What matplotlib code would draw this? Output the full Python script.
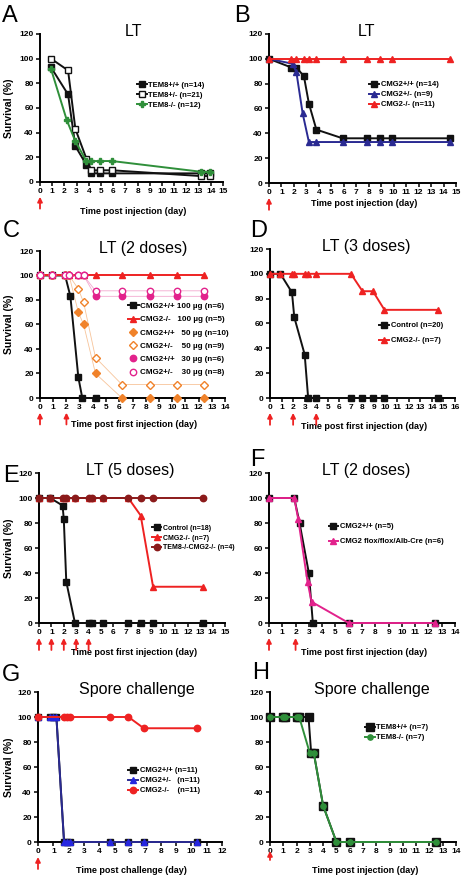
import matplotlib
matplotlib.use('Agg')
import matplotlib.pyplot as plt

plt.rcParams['font.family'] = ['Liberation Sans Narrow', 'Liberation Sans', 'DejaVu Sans']
plt.rcParams['font.weight'] = 'bold'

BLACK = '#111111'
GREEN = '#2f8f3a'
NAVY = '#2a2a92'
BLUE = '#2626e0'
RED = '#ee2222'
DKRED = '#8b1a1a'
MAGENTA = '#e2228c'
ORANGE = '#f0822a'
ORANGE_LINE = '#f7c49a'
MAGENTA_LINE = '#f3a8cf'

# ---- A: LT, TEM8 ----
a_days = [0.9, 2.3, 2.9, 3.8, 4.2, 4.9, 5.9, 13.2, 13.9]
a_wt = [93, 71, 29, 14, 7, 7, 7, 7, 7]
a_het = [100, 90.5, 43, 19, 9.5, 9.5, 9.5, 4.8, 4.8]
a_ko_days = [0.9, 2.2, 2.9, 3.8, 4.2, 4.9, 5.9, 13.2, 13.9]
a_ko = [91.7, 50, 33, 17, 17, 17, 17, 8.3, 8.3]
a_doses = [0]

# ---- B: LT, CMG2 ----
b_days = [0, 1.8, 2.2, 2.8, 3.2, 3.8, 5.9, 7.9, 8.9, 9.9, 14.5]
b_wt = [100, 93, 93, 86, 64, 43, 36, 36, 36, 36, 36]
b_het_days = [0, 1.9, 2.2, 2.7, 3.2, 3.8, 5.9, 7.9, 8.9, 9.9, 14.5]
b_het = [100, 96, 89, 56, 33, 33, 33, 33, 33, 33, 33]
b_ko = [100, 100, 100, 100, 100, 100, 100, 100, 100, 100, 100]
b_doses = [0]

# ---- C: LT (2 doses) ----
c_wt100_days = [0, 0.9, 1.9, 2.3, 2.9, 3.2, 4.2]
c_wt100 = [100, 100, 100, 83, 17, 0, 0]
c_days = [0, 0.9, 1.9, 2.2, 2.9, 3.3, 4.2, 6.2, 8.3, 10.4, 12.4]
c_ko100 = [100, 100, 100, 100, 100, 100, 100, 100, 100, 100, 100]
c_wt50 = [100, 100, 100, 100, 70, 60, 20, 0, 0, 0, 0]
c_het50 = [100, 100, 100, 100, 89, 78, 33, 11, 11, 11, 11]
c_wt30 = [100, 100, 100, 100, 100, 100, 83, 83, 83, 83, 83]
c_het30 = [100, 100, 100, 100, 100, 100, 87.5, 87.5, 87.5, 87.5, 87.5]
c_doses = [0, 2]

# ---- D: LT (3 doses) ----
d_days = [0, 0.9, 1.9, 2.1, 3.0, 3.3, 4.0, 7.0, 8.0, 8.9, 9.9, 14.5]
d_ctrl = [100, 100, 85, 65, 35, 0, 0, 0, 0, 0, 0, 0]
d_ko = [100, 100, 100, 100, 100, 100, 100, 100, 86, 86, 71, 71]
d_doses = [0, 2, 4]

# ---- E: LT (5 doses) ----
e_ctrl_days = [0, 0.9, 1.9, 2.0, 2.2, 2.9, 4.0, 4.3, 5.2, 7.2, 8.2, 9.2, 13.2]
e_ctrl = [100, 100, 94, 83, 33, 0, 0, 0, 0, 0, 0, 0, 0]
e_days = [0, 0.9, 1.9, 2.2, 2.9, 4.0, 4.3, 5.2, 7.2, 8.2, 9.2, 13.2]
e_ko = [100, 100, 100, 100, 100, 100, 100, 100, 100, 86, 29, 29]
e_dko = [100, 100, 100, 100, 100, 100, 100, 100, 100, 100, 100, 100]
e_doses = [0, 1, 2, 3, 4]

# ---- F: LT (2 doses), liver knockout ----
f_wt_days = [0, 1.9, 2.3, 3.0, 3.3, 6.0, 12.5]
f_wt = [100, 100, 80, 40, 0, 0, 0]
f_flox_days = [0, 1.9, 2.2, 2.9, 3.2, 6.0, 12.5]
f_flox = [100, 100, 83, 33, 17, 0, 0]
f_doses = [0, 2]

# ---- G: spore challenge, CMG2 ----
g_days = [0, 0.8, 1.0, 1.2, 1.7, 1.9, 2.1, 4.7, 5.9, 6.9, 10.4]
g_wt = [100, 100, 100, 100, 0, 0, 0, 0, 0, 0, 0]
g_het = [100, 100, 100, 100, 0, 0, 0, 0, 0, 0, 0]
g_ko_days = [0, 1.7, 1.9, 2.1, 4.7, 5.9, 6.9, 10.4]
g_ko = [100, 100, 100, 100, 100, 100, 91, 91]
g_doses = [0]

# ---- H: spore challenge, TEM8 ----
h_wt_days = [0, 1.0, 1.1, 2.0, 2.2, 2.9, 3.1, 3.3, 4.0, 5.0, 6.0, 12.5]
h_wt = [100, 100, 100, 100, 100, 100, 71, 71, 29, 0, 0, 0]
h_ko_days = [0, 1.0, 1.1, 2.0, 2.2, 3.0, 3.3, 4.0, 5.0, 6.0, 12.5]
h_ko = [100, 100, 100, 100, 100, 71, 71, 29, 0, 0, 0]
h_doses = [0]

W, H = 464, 880
fig = plt.figure(figsize=(W / 100, H / 100), dpi=100)


def make_axes(l, t, r, b, xmax):
    ax = fig.add_axes([l / W, 1 - b / H, (r - l) / W, (b - t) / H])
    ax.set_xlim(0, xmax)
    ax.set_ylim(0, 120)
    ax.set_xticks(range(0, xmax + 1))
    ax.set_yticks(range(0, 121, 20))
    for s in ['top', 'right']:
        ax.spines[s].set_visible(False)
    for s in ['left', 'bottom']:
        ax.spines[s].set_linewidth(1.4)
    ax.tick_params(direction='out', length=3, width=1.1, labelsize=6, pad=1.5)
    for lab in ax.get_xticklabels() + ax.get_yticklabels():
        lab.set_fontweight('bold')
    return ax


def series(ax, x, y, color, marker, label, mfc=None, lw=1.4, ms=4.6, mec=None):
    ax.plot(x, y, color=color, marker=marker, mfc=mfc or color, mec=mec or color,
            lw=lw, ms=ms, mew=1, label=label, clip_on=False, zorder=3)


def decorate(ax, title, tx, xlabel, xly, doses, leg_xy, leg_fs=5.5, leg_sp=0.35, arrow_y=(-0.1, -0.18)):
    ax.text(tx, 1.02, title, transform=ax.transAxes, ha='center', va='center',
            fontsize=11.5, fontweight='normal', family=['Liberation Sans', 'DejaVu Sans'])
    ax.text(0.51, xly, xlabel, transform=ax.transAxes, ha='center', va='center',
            fontsize=6.5, fontweight='bold')
    for d in doses:
        ax.annotate('', xy=(d, arrow_y[0]), xycoords=('data', 'axes fraction'),
                    xytext=(d, arrow_y[1]), textcoords=('data', 'axes fraction'),
                    arrowprops=dict(arrowstyle='-|>', color=RED, lw=1.3, mutation_scale=7,
                                    shrinkA=0, shrinkB=0))
    leg = ax.legend(loc='upper left', bbox_to_anchor=leg_xy, frameon=False,
                    handlelength=1.3, handletextpad=0.2, labelspacing=leg_sp, borderpad=0,
                    borderaxespad=0, prop={'weight': 'bold', 'size': leg_fs})
    return leg


def letter(x, y, s):
    fig.text(x / W, 1 - y / H, s, ha='left', va='top', fontsize=17, fontweight='normal',
             family=['Liberation Sans', 'DejaVu Sans'])


def ylabel(ax_t, ax_b):
    fig.text(9 / W, 1 - (ax_t + ax_b) / 2 / H, 'Survival (%)', rotation=90, ha='center',
             va='center', fontsize=7.5, fontweight='bold')


# A
ax = make_axes(40, 34, 223, 182, 15)
series(ax, a_days, a_wt, BLACK, 's', 'TEM8+/+ (n=14)')
series(ax, a_days, a_het, BLACK, 's', 'TEM8+/- (n=21)', mfc='white')
series(ax, a_ko_days, a_ko, GREEN, 'P', 'TEM8-/- (n=12)')
decorate(ax, 'LT', 0.51, 'Time post injection (day)', -0.2, a_doses, (0.53, 0.68))
letter(2, 5, 'A')
ylabel(34, 182)

# B
ax = make_axes(269, 34, 456, 183, 15)
series(ax, b_days, b_wt, BLACK, 's', 'CMG2+/+ (n=14)')
series(ax, b_het_days, b_het, NAVY, '^', 'CMG2+/- (n=9)')
series(ax, b_days, b_ko, RED, '^', 'CMG2-/- (n=11)')
decorate(ax, 'LT', 0.52, 'Time post injection (day)', -0.14, b_doses, (0.535, 0.685))
letter(234, 5, 'B')

# C
ax = make_axes(40, 251, 225, 398, 14)
ax.plot(c_days, c_wt50, color=ORANGE_LINE, lw=0.6, zorder=2, clip_on=False)
ax.plot(c_days, c_het50, color=ORANGE_LINE, lw=0.6, zorder=2, clip_on=False)
ax.plot(c_days, c_wt30, color=MAGENTA_LINE, lw=0.6, zorder=2, clip_on=False)
ax.plot(c_days, c_het30, color=MAGENTA_LINE, lw=0.6, zorder=2, clip_on=False)
series(ax, c_wt100_days, c_wt100, BLACK, 's', 'CMG2+/+ 100 \u00b5g (n=6)')
series(ax, c_days, c_ko100, RED, '^', 'CMG2-/-   100 \u00b5g (n=5)')
series(ax, c_days, c_wt50, ORANGE, 'D', 'CMG2+/+   50 \u00b5g (n=10)', lw=0, ms=3.8)
series(ax, c_days, c_het50, ORANGE, 'D', 'CMG2+/-    50 \u00b5g (n=9)', mfc='white', lw=0, ms=3.8)
series(ax, c_days, c_wt30, MAGENTA, 'o', 'CMG2+/+   30 \u00b5g (n=6)', lw=0)
series(ax, c_days, c_het30, MAGENTA, 'o', 'CMG2+/-    30 \u00b5g (n=8)', mfc='white', lw=0)
decorate(ax, 'LT (2 doses)', 0.56, 'Time post first injection (day)', -0.18, c_doses,
         (0.476, 0.65), leg_fs=5.8, leg_sp=0.7)
letter(3, 220, 'C')
ylabel(251, 398)

# D
ax = make_axes(270, 249, 455, 398, 16)
series(ax, d_days, d_ctrl, BLACK, 's', 'Control (n=20)')
series(ax, d_days, d_ko, RED, '^', 'CMG2-/- (n=7)')
decorate(ax, 'LT (3 doses)', 0.52, 'Time post first injection (day)', -0.19, d_doses,
         (0.59, 0.51), leg_sp=1.0)
letter(250, 220, 'D')

# E
ax = make_axes(39, 473, 225, 623, 15)
series(ax, e_ctrl_days, e_ctrl, BLACK, 's', 'Control (n=18)')
series(ax, e_days, e_ko, RED, '^', 'CMG2-/- (n=7)')
series(ax, e_days, e_dko, DKRED, 'o', 'TEM8-/-CMG2-/- (n=4)')
decorate(ax, 'LT (5 doses)', 0.49, 'Time post first injection (day)', -0.195, e_doses,
         (0.61, 0.655), leg_fs=5, leg_sp=0.4)
letter(3, 465, 'E')
ylabel(473, 623)

# F
ax = make_axes(269, 473, 455, 623, 14)
series(ax, f_wt_days, f_wt, BLACK, 's', 'CMG2+/+ (n=5)')
series(ax, f_flox_days, f_flox, MAGENTA, '^', 'CMG2 flox/flox/Alb-Cre (n=6)')
decorate(ax, 'LT (2 doses)', 0.52, 'Time post first injection (day)', -0.195, f_doses,
         (0.32, 0.667), leg_sp=1.0)
letter(250, 449, 'F')

# G
ax = make_axes(38, 692, 222, 842, 12)
series(ax, g_days, g_wt, BLACK, 's', 'CMG2+/+ (n=11)')
series(ax, g_days, g_het, NAVY, '^', 'CMG2+/-   (n=11)', mfc=BLUE, mec=BLUE)
series(ax, g_ko_days, g_ko, RED, 'o', 'CMG2-/-    (n=11)')
decorate(ax, 'Spore challenge', 0.54, 'Time post challenge (day)', -0.187, g_doses,
         (0.49, 0.5))
letter(2, 664, 'G')
ylabel(692, 842)

# H
ax = make_axes(270, 692, 456, 842, 14)
series(ax, h_wt_days, h_wt, BLACK, 's', 'TEM8+/+ (n=7)', ms=5.2)
series(ax, h_ko_days, h_ko, GREEN, 'o', 'TEM8-/- (n=7)', ms=3.8)
decorate(ax, 'Spore challenge', 0.55, 'Time post injection (day)', -0.187, h_doses,
         (0.51, 0.787), arrow_y=(-0.06, -0.12))
letter(252, 662, 'H')

fig.savefig('out.png', dpi=100)
